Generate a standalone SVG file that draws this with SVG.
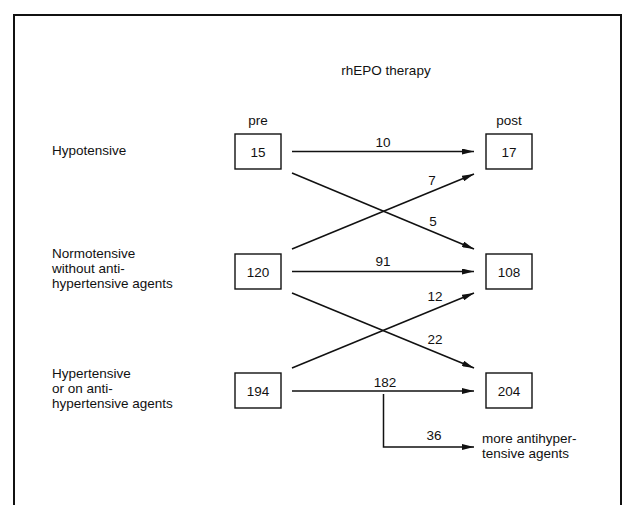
<svg xmlns="http://www.w3.org/2000/svg" width="631" height="505" viewBox="0 0 631 505">
<defs>
<style>
text{font-family:"Liberation Sans",Arial,sans-serif;font-size:13.5px;fill:#111}
.c{text-anchor:middle}
.box{fill:#fff;stroke:#111;stroke-width:1.4}
.ln{fill:none;stroke:#111;stroke-width:1.5}
</style>
<marker id="ah" viewBox="0 0 12 6" refX="12" refY="3" markerWidth="12" markerHeight="6" markerUnits="userSpaceOnUse" orient="auto">
<path d="M0,0 L12,3 L0,6 Z" fill="#111"/>
</marker>
</defs>
<rect width="631" height="505" fill="#fff"/>
<path d="M14,505 V15 H621 V505" fill="none" stroke="#111" stroke-width="2"/>
<text class="c" x="386" y="75">rhEPO therapy</text>
<text class="c" x="258" y="125">pre</text>
<text class="c" x="509" y="125">post</text>
<g id="label-hypo"><text x="52" y="155">Hypotensive</text></g>
<g id="label-normo"><text x="52" y="258">Normotensive</text><text x="52" y="273.2">without anti-</text><text x="52" y="288.4">hypertensive agents</text></g>
<g id="label-hyper"><text x="52" y="377.5">Hypertensive</text><text x="52" y="392.7">or on anti-</text><text x="52" y="407.9">hypertensive agents</text></g>
<g id="pre15"><rect class="box" x="235" y="134" width="46" height="35"/><text class="c" x="258" y="156.5">15</text></g>
<g id="post17"><rect class="box" x="486" y="134" width="46" height="35"/><text class="c" x="509" y="156.5">17</text></g>
<g id="pre120"><rect class="box" x="235" y="254" width="46" height="35"/><text class="c" x="258" y="276.5">120</text></g>
<g id="post108"><rect class="box" x="486" y="254" width="46" height="35"/><text class="c" x="509" y="276.5">108</text></g>
<g id="pre194"><rect class="box" x="235" y="373" width="46" height="35"/><text class="c" x="258" y="395.5">194</text></g>
<g id="post204"><rect class="box" x="486" y="373" width="46" height="35"/><text class="c" x="509" y="395.5">204</text></g>
<g id="more"><text x="482" y="443">more antihyper-</text><text x="482" y="458.2">tensive agents</text></g>
<g id="connectors">
<line class="ln" x1="292" y1="151.5" x2="474" y2="151.5" marker-end="url(#ah)"/>
<line class="ln" x1="292" y1="173" x2="474" y2="249" marker-end="url(#ah)"/>
<line class="ln" x1="292" y1="249" x2="474" y2="174" marker-end="url(#ah)"/>
<line class="ln" x1="292" y1="271.5" x2="474" y2="271.5" marker-end="url(#ah)"/>
<line class="ln" x1="292" y1="293" x2="474" y2="368" marker-end="url(#ah)"/>
<line class="ln" x1="292" y1="368" x2="474" y2="293" marker-end="url(#ah)"/>
<line class="ln" x1="292" y1="391" x2="474" y2="391" marker-end="url(#ah)"/>
<polyline class="ln" points="383.5,394 383.5,447 474,447" marker-end="url(#ah)"/>
<text class="c" x="383" y="147">10</text>
<text class="c" x="432" y="185">7</text>
<text class="c" x="433" y="226">5</text>
<text class="c" x="383" y="266">91</text>
<text class="c" x="435" y="301">12</text>
<text class="c" x="435" y="344">22</text>
<text class="c" x="385" y="387">182</text>
<text class="c" x="434" y="440">36</text>
</g>
</svg>
